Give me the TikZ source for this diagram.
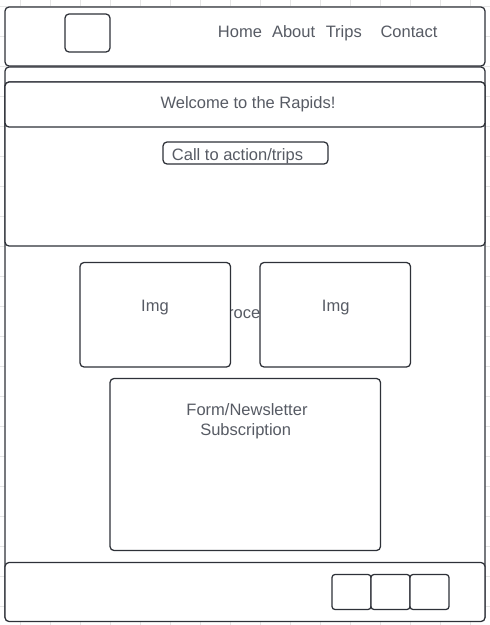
\documentclass[tikz,border=0pt]{standalone}
\usepackage{fontspec}
\setmainfont{Liberation Sans}
\definecolor{ink}{HTML}{2E3138}
\definecolor{txt}{HTML}{575B64}
\definecolor{gridc}{HTML}{E6E6E6}

\begin{document}
\begin{tikzpicture}[x=1pt,y=-1pt,
   box/.style={draw=ink,line width=1.25pt,rounded corners=4pt,fill=white},
   lbl/.style={text=txt,font=\fontsize{16.5}{19}\selectfont,inner sep=0pt,anchor=base}]
   \useasboundingbox (0,0) rectangle (490,625);
   % background grid
   \foreach \i in {0,...,15} {
    \draw[gridc,line width=0.8pt] (20+30*\i,0) -- (20+30*\i,625);
   }
   \foreach \i in {0,...,20} {
    \draw[gridc,line width=0.8pt] (0,6+30*\i) -- (490,6+30*\i);
   }
   % page and header
   \draw[box] (5,67) rectangle (485,621);
   \draw[box] (5,7) rectangle (485,66);
   \draw[box] (65,14) rectangle (110,52);
   \node[lbl] (home) at (240,37.7) {Home};
   \node[lbl] (about) at (293.6,37.7) {About};
   \node[lbl] (trips) at (343.8,37.7) {Trips};
   \node[lbl] (contact) at (409,37.7) {Contact};
   % hero
   \draw[box] (5,82) rectangle (485,246);
   \draw[box] (5,82) rectangle (485,127);
   \node[lbl] (welcome) at (248,108.3) {Welcome to the Rapids!};
   \draw[box] (163,142) rectangle (328,164);
   \node[lbl] (cta) at (237.5,160) {Call to action/trips};
   % images
   \node[lbl,anchor=base west] (roce) at (228,318.5) {roce};
   \draw[box] (80,262.5) rectangle (230.5,367);
   \draw[box] (260,262.5) rectangle (410.5,367);
   \node[lbl] (imga) at (155,311.5) {Img};
   \node[lbl] (imgb) at (335.7,311.5) {Img};
   % form
   \draw[box] (110,378.5) rectangle (380.5,550.5);
   \node[lbl] (form) at (247,415.7) {Form/Newsletter};
   \node[lbl] (subs) at (245.7,435.5) {Subscription};
   % footer
   \draw[box] (5,562.5) rectangle (485,621.5);
   \foreach \x in {332,371,410} {
    \draw[box,rounded corners=3pt] (\x,574.5) rectangle (\x+39,609.5);
   }
  \end{tikzpicture}
\end{document}
